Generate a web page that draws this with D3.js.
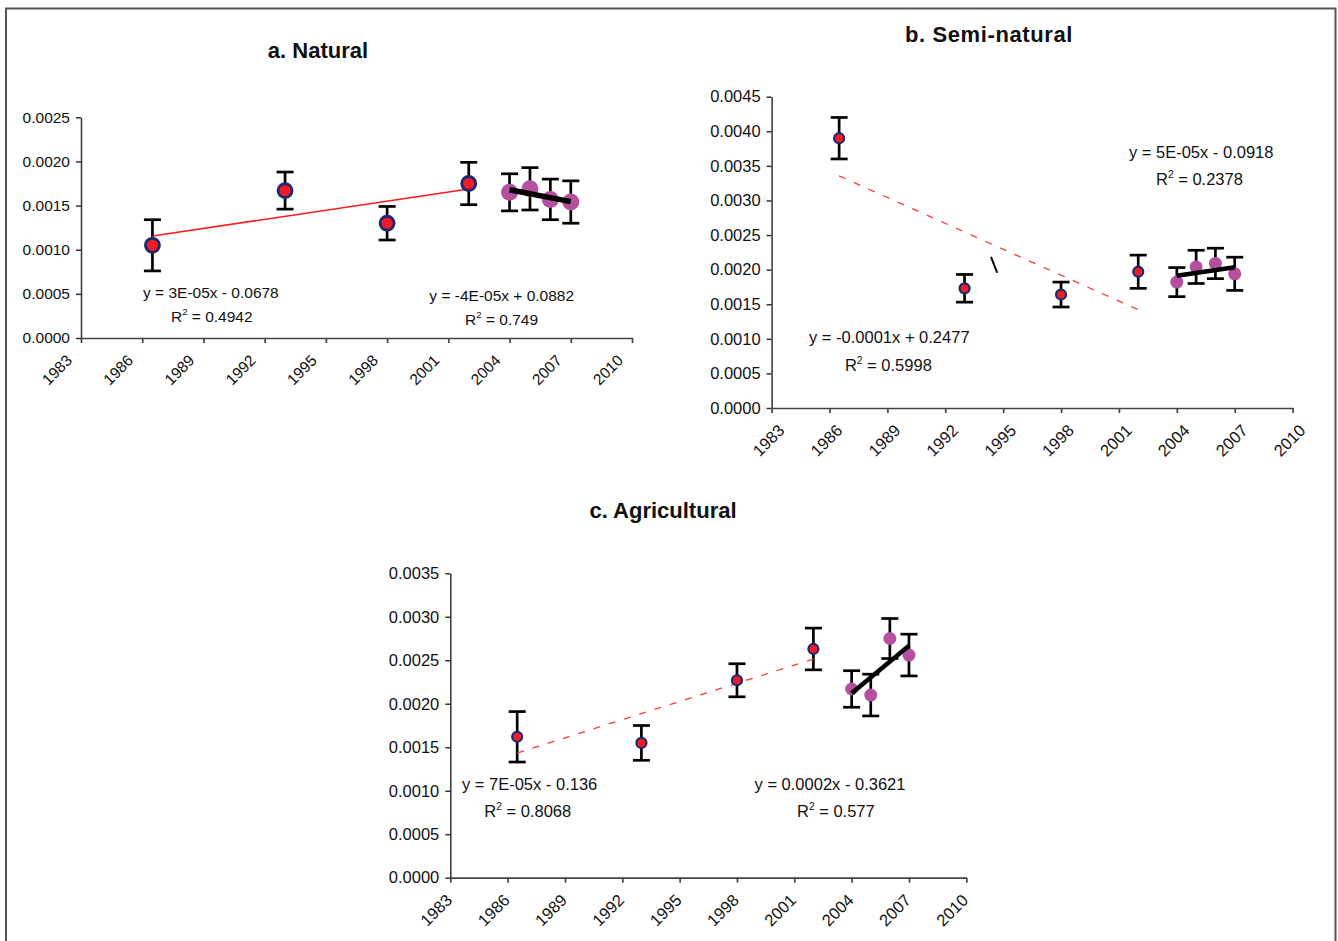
<!DOCTYPE html>
<html>
<head>
<meta charset="utf-8">
<script src="https://cdn.jsdelivr.net/npm/d3@7"></script>
<style>
  html, body { margin: 0; padding: 0; background: #fff; }
  svg { display: block; font-family: "Liberation Sans", Arial, Helvetica, sans-serif; }
</style>
</head>
<body>
<svg id="chart" width="1338" height="941"></svg>
<script>
// ---- data ----------------------------------------------------------------
const yearTicks = [1983, 1986, 1989, 1992, 1995, 1998, 2001, 2004, 2007, 2010];
const surveyYears = [1986.5, 1993, 1998, 2002];   // earlier surveys (red)
const annualYears = [2004, 2005, 2006, 2007];     // annual series (purple)

const naturalSurvey = [0.00105, 0.00167, 0.00130, 0.00175];
const naturalSurveyErr = [0.00029, 0.00021, 0.00019, 0.00024];
const naturalAnnual = [0.00165, 0.00169, 0.00157, 0.00154];
const naturalAnnualErr = [0.00021, 0.00024, 0.00023, 0.00024];

const semiSurvey = [0.00390, 0.00173, 0.00164, 0.00197];
const semiSurveyErr = [0.00030, 0.00020, 0.00018, 0.00024];
const semiAnnual = [0.00182, 0.00204, 0.00209, 0.00194];
const semiAnnualErr = [0.00021, 0.00024, 0.00022, 0.00024];

const agriSurvey = [0.00162, 0.00155, 0.00227, 0.00263];
const agriSurveyErr = [0.00029, 0.00020, 0.00019, 0.00024];
const agriAnnual = [0.00217, 0.00210, 0.00275, 0.00256];
const agriAnnualErr = [0.00021, 0.00024, 0.00023, 0.00024];

// trend-line equation labels: [equation, r2, year, value, year, value]
// (left baseline of the equation line, then of the R² line)
const naturalLabels = [
  ["y = 3E-05x - 0.0678", "0.4942", 1986.04, 0.000450, 1987.41, 0.000185],
  ["y = -4E-05x + 0.0882", "0.749", 2000.07, 0.000419, 2001.82, 0.000147]
];
const semiLabels = [
  ["y = 5E-05x - 0.0918", "0.2378", 2001.52, 0.003608, 2002.92, 0.003223],
  ["y = -0.0001x + 0.2477", "0.5998", 1984.94, 0.000935, 1986.80, 0.000539]
];
const agriLabels = [
  ["y = 7E-05x - 0.136", "0.8068", 1983.61, 0.001008, 1984.78, 0.000694],
  ["y = 0.0002x - 0.3621", "0.577", 1998.92, 0.001008, 2001.14, 0.000694]
];
// small stray stroke in the semi-natural panel
const semiStroke = [[1994.37, 0.002186], [1994.69, 0.001955]];

// ---- drawing ---------------------------------------------------------------
const svg = d3.select("#chart");
const RED = "#ee1d25", NAVY = "#1d2870", PURPLE = "#b5509f";

// outer frame
svg.append("rect")
  .attr("x", 6).attr("y", 8.5).attr("width", 1329.5).attr("height", 960)
  .attr("fill", "none").attr("stroke", "#555").attr("stroke-width", 2);

function leastSquares(xs, ys) {
  const mx = d3.mean(xs), my = d3.mean(ys);
  const sxy = d3.sum(xs, (v, i) => (v - mx) * (ys[i] - my));
  const sxx = d3.sum(xs, v => (v - mx) * (v - mx));
  const b = sxy / sxx, a = my - b * mx;
  const x0 = d3.min(xs), x1 = d3.max(xs);
  return [[x0, a + b * x0], [x1, a + b * x1]];
}

function drawPanel(p) {
  const g = svg.append("g");
  const x = d3.scaleLinear().domain([1983, 2010]).range([p.left, p.right]);
  const y = d3.scaleLinear().domain([0, p.yMax]).range([p.bottom, p.top]);

  // title
  g.append("text")
    .attr("x", p.titleX).attr("y", p.titleY)
    .attr("text-anchor", "middle")
    .attr("font-size", 22).attr("font-weight", "bold")
    .attr("letter-spacing", p.titleSpacing || 0)
    .attr("fill", "#111")
    .text(p.title);

  // y axis
  const yTicks = d3.range(0, p.yMax + 1e-9, 0.0005);
  const ya = g.append("g")
    .attr("transform", `translate(${p.left},0)`)
    .call(d3.axisLeft(y).tickValues(yTicks).tickFormat(d3.format(".4f"))
      .tickSize(5).tickSizeOuter(0).tickPadding(6));
  ya.selectAll("text").attr("font-size", p.fontSize).attr("fill", "#111")
    .attr("font-family", "Liberation Sans, Arial, sans-serif");
  ya.selectAll("line, path").attr("stroke", "#333").attr("stroke-width", 1.5);

  // x axis
  const xa = g.append("g")
    .attr("transform", `translate(0,${p.bottom})`)
    .call(d3.axisBottom(x).tickValues(yearTicks).tickFormat("")
      .tickSize(5).tickSizeOuter(0));
  xa.selectAll("line, path").attr("stroke", "#444").attr("stroke-width", 1.7);

  g.selectAll(".yr").data(yearTicks).join("text")
    .attr("class", "yr")
    .attr("transform", d => `translate(${x(d) + p.labelDx},${p.bottom + 23.5}) rotate(-45)`)
    .attr("text-anchor", "end")
    .attr("font-size", p.fontSize).attr("fill", "#111")
    .text(d => d);

  // error bars
  const cap = 8.5;
  function errorBars(xs, vs, es) {
    const eb = g.append("g").attr("stroke", "#000").attr("stroke-width", 2.7).attr("fill", "none");
    xs.forEach((yr, i) => {
      const cx = x(yr), hi = y(vs[i] + es[i]), lo = y(vs[i] - es[i]);
      eb.append("line").attr("x1", cx).attr("x2", cx).attr("y1", hi).attr("y2", lo);
      eb.append("line").attr("x1", cx - cap).attr("x2", cx + cap).attr("y1", hi).attr("y2", hi);
      eb.append("line").attr("x1", cx - cap).attr("x2", cx + cap).attr("y1", lo).attr("y2", lo);
    });
  }
  errorBars(p.surveyYears, p.survey, p.surveyErr);
  errorBars(p.annualYears, p.annual, p.annualErr);

  const line = d3.line().x(d => x(d[0])).y(d => y(d[1]));

  // survey trend (red)
  g.append("path")
    .attr("d", line(leastSquares(p.surveyYears, p.survey)))
    .attr("fill", "none").attr("stroke", p.redDash ? "#ff3b3b" : "#ff1a1a")
    .attr("stroke-width", p.redDash ? 1.3 : 1.6)
    .attr("stroke-dasharray", p.redDash ? "7,9" : null);

  // markers
  g.selectAll(".sv").data(p.survey).join("circle")
    .attr("class", "sv")
    .attr("cx", (d, i) => x(p.surveyYears[i])).attr("cy", d => y(d))
    .attr("r", p.rRed).attr("fill", RED)
    .attr("stroke", NAVY).attr("stroke-width", p.navyW);
  g.selectAll(".an").data(p.annual).join("circle")
    .attr("class", "an")
    .attr("cx", (d, i) => x(p.annualYears[i])).attr("cy", d => y(d))
    .attr("r", p.rPurple).attr("fill", PURPLE);

  // annual trend (black)
  g.append("path")
    .attr("d", line(leastSquares(p.annualYears, p.annual)))
    .attr("fill", "none").attr("stroke", "#000")
    .attr("stroke-width", p.blackW);

  // equation labels
  p.labels.forEach(l => {
    g.append("text")
      .attr("x", x(l[2])).attr("y", y(l[3]))
      .attr("font-size", p.fontSize).attr("fill", "#111")
      .text(l[0]);
    const t = g.append("text")
      .attr("x", x(l[4])).attr("y", y(l[5]))
      .attr("font-size", p.fontSize).attr("fill", "#111");
    t.append("tspan").text("R");
    t.append("tspan").attr("dy", -7).attr("font-size", p.fontSize * 0.62).text("2");
    t.append("tspan").attr("dy", 7).text(" = " + l[1]);
  });

  if (p.stroke) {
    g.append("path").attr("d", line(p.stroke))
      .attr("stroke", "#000").attr("stroke-width", 2).attr("fill", "none");
  }
}

drawPanel({
  title: "a. Natural", titleX: 318, titleY: 58,
  left: 81, right: 632, top: 117.3, bottom: 338, yMax: 0.0025,
  fontSize: 15.5, labelDx: -8,
  surveyYears, survey: naturalSurvey, surveyErr: naturalSurveyErr,
  annualYears, annual: naturalAnnual, annualErr: naturalAnnualErr,
  rRed: 7, navyW: 2.8, rPurple: 8.5, blackW: 5.5, redDash: false,
  labels: naturalLabels
});

drawPanel({
  title: "b. Semi-natural", titleX: 989, titleY: 41.5, titleSpacing: 0.6,
  left: 771.6, right: 1292.6, top: 96.7, bottom: 408, yMax: 0.0045,
  fontSize: 16.5, labelDx: 14,
  surveyYears, survey: semiSurvey, surveyErr: semiSurveyErr,
  annualYears, annual: semiAnnual, annualErr: semiAnnualErr,
  rRed: 5, navyW: 2.2, rPurple: 6.5, blackW: 4.5, redDash: true,
  labels: semiLabels, stroke: semiStroke
});

drawPanel({
  title: "c. Agricultural", titleX: 663, titleY: 518,
  left: 450.3, right: 966.3, top: 573.3, bottom: 877.7, yMax: 0.0035,
  fontSize: 16.5, labelDx: 3,
  surveyYears, survey: agriSurvey, surveyErr: agriSurveyErr,
  annualYears, annual: agriAnnual, annualErr: agriAnnualErr,
  rRed: 5, navyW: 2.2, rPurple: 6.5, blackW: 4.5, redDash: true,
  labels: agriLabels
});
</script>
</body>
</html>
